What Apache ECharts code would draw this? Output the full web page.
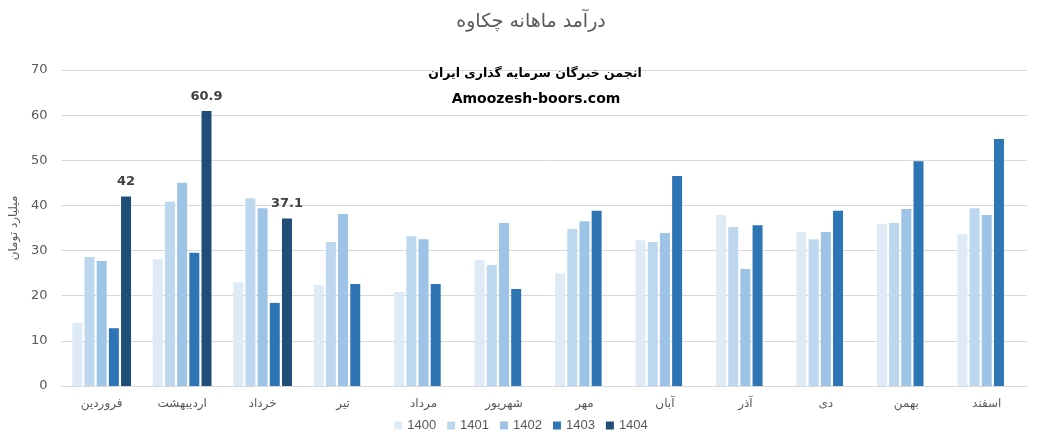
<!DOCTYPE html>
<html><head><meta charset="utf-8">
<script src="https://cdn.jsdelivr.net/npm/echarts@6/dist/echarts.min.js"></script>
<style>html,body{margin:0;padding:0;background:#fff}#c{width:1042px;height:432px}</style>
</head><body><div id="c"></div>
<script>
const categories = ['فروردین','اردیبهشت','خرداد','تیر','مرداد','شهریور','مهر','آبان','آذر','دی','بهمن','اسفند'];
const seriesNames = ['1400','1401','1402','1403','1404'];
const v1400 = [14.0, 28.1, 23.0, 22.4, 20.8, 27.9, 25.0, 32.3, 37.9, 34.1, 35.9, 33.6];
const v1401 = [28.6, 40.8, 41.6, 31.9, 33.2, 26.8, 34.8, 31.9, 35.2, 32.5, 36.1, 39.4];
const v1402 = [27.7, 45.0, 39.4, 38.1, 32.5, 36.1, 36.5, 33.9, 25.9, 34.1, 39.2, 37.9];
const v1403 = [12.8, 29.5, 18.4, 22.6, 22.6, 21.5, 38.8, 46.5, 35.6, 38.8, 49.8, 54.7];
const v1404 = [42, 60.9, 37.1, null, null, null, null, null, null, null, null, null];
const colors = ['#DEEBF7','#BDD7EE','#9DC3E6','#2E75B6','#1F4E79'];
const values = [v1400, v1401, v1402, v1403, v1404];

const chart = echarts.init(document.getElementById('c'));
const font = "'DejaVu Sans', 'Noto Sans', sans-serif";
const numFont = "'Liberation Sans', 'DejaVu Sans', sans-serif";
chart.setOption({
  animation: false,
  textStyle: {fontFamily: font},
  title: [
    {text: 'درآمد ماهانه چکاوه', left: 526, textAlign: 'center', top: 8, textStyle: {fontSize: 19, fontWeight: 'normal', color: '#595959', fontFamily: font}},
    {text: 'انجمن خبرگان سرمایه گذاری ایران', left: 530, textAlign: 'center', top: 62, textStyle: {fontSize: 12.5, fontWeight: 'bold', color: '#000', fontFamily: font}},
    {text: 'Amoozesh-boors.com', left: 531, textAlign: 'center', top: 87, textStyle: {fontSize: 14, fontWeight: 'bold', color: '#000', fontFamily: font}}
  ],
  grid: {left: 59, right: 15, top: 70, bottom: 46, containLabel: false},
  legend: {
    data: seriesNames, top: 414, left: 'center', itemWidth: 8, itemHeight: 8, itemGap: 11,
    icon: 'rect', textStyle: {fontSize: 13, color: '#595959', fontFamily: numFont}
  },
  xAxis: {
    type: 'category', data: categories,
    axisLine: {lineStyle: {color: '#D9D9D9', width: 1}},
    axisTick: {show: false},
    axisLabel: {fontSize: 12, color: '#595959', margin: 12, fontFamily: font}
  },
  yAxis: {
    type: 'value', min: 0, max: 70, interval: 10,
    name: 'میلیارد تومان', nameLocation: 'middle', nameGap: 40, nameRotate: 90,
    nameTextStyle: {fontSize: 12, color: '#595959', fontFamily: font},
    axisLine: {show: false}, axisTick: {show: false},
    axisLabel: {fontSize: 13, color: '#595959', margin: 14, fontFamily: font},
    splitLine: {lineStyle: {color: '#D9D9D9', width: 1}}
  },
  series: seriesNames.map((n, i) => ({
    name: n, type: 'bar', data: values[i],
    itemStyle: {color: colors[i]},
    barGap: '22%', barCategoryGap: '27%',
    label: i === 4 ? {show: true, position: 'top', distance: 8, fontSize: 13, fontWeight: 'bold', color: '#404040', fontFamily: font} : {show: false}
  }))
});
</script></body></html>
